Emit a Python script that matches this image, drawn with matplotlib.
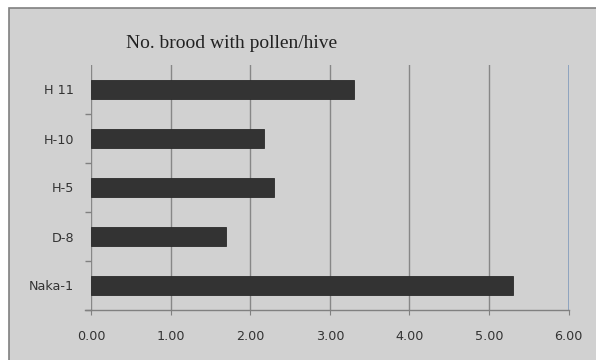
import matplotlib
matplotlib.use("Agg")
import matplotlib.pyplot as plt
from matplotlib.patches import Rectangle

categories = ["Naka-1", "D-8", "H-5", "H-10", "H 11"]
values = [5.30, 1.70, 2.30, 2.17, 3.30]
xticks = [0, 1, 2, 3, 4, 5, 6]
xticklabels = ["0.00", "1.00", "2.00", "3.00", "4.00", "5.00", "6.00"]
title = "No. brood with pollen/hive"

W, H = 596, 360
fig = plt.figure(figsize=(W / 100, H / 100), dpi=100)
fig.patch.set_facecolor("white")

bg = "#d1d1d1"
bgax = fig.add_axes([0, 0, 1, 1], zorder=-1)
bgax.set_xlim(0, W)
bgax.set_ylim(H, 0)
bgax.axis("off")
bgax.add_patch(Rectangle((9, 8), W, H, facecolor=bg, edgecolor="#808080", linewidth=1.2))

ax = fig.add_axes([91 / W, 1 - 310 / H, (568.7 - 91) / W, (310 - 65) / H], zorder=1)
ax.patch.set_alpha(0)

ypos = list(range(len(categories)))
ax.barh(ypos, values, height=0.4, color="#333333", edgecolor="#2a2a2a", linewidth=0.6, zorder=3)
ax.set_xlim(0, 6)
ax.set_ylim(-0.5, len(categories) - 0.5)

tick_font = dict(fontfamily="DejaVu Sans", fontsize=9.2, color="#333333")
ax.set_xticks(xticks)
ax.set_xticklabels(xticklabels, **tick_font)
ax.set_yticks(ypos)
ax.set_yticklabels(categories, **tick_font)
ax.tick_params(axis="y", length=0, pad=12)
ax.tick_params(axis="x", length=3.6, color="#808080", pad=11)

ax.set_yticks([i - 0.5 for i in range(len(categories))], minor=True)
ax.tick_params(axis="y", which="minor", length=4.3, color="#808080", width=1)

for x in xticks[:-1]:
    ax.axvline(x, color="#878787", linewidth=1.0, zorder=1)
ax.axvline(6, color="#8ea3bf", linewidth=1.4, zorder=1)

for s in ["top", "right", "left"]:
    ax.spines[s].set_visible(False)
ax.spines["bottom"].set_color("#808080")
ax.spines["bottom"].set_linewidth(1.0)
ax.spines["bottom"].set_bounds(0, 6)
ax.plot([-0.075, 0], [-0.5, -0.5], color="#808080", linewidth=1.0, clip_on=False)

fig.text(232 / W, 1 - 43 / H, title, fontfamily="Liberation Serif", fontsize=14,
         color="#222222", ha="center", va="center")

fig.savefig("out.png", dpi=100, facecolor=fig.get_facecolor())
